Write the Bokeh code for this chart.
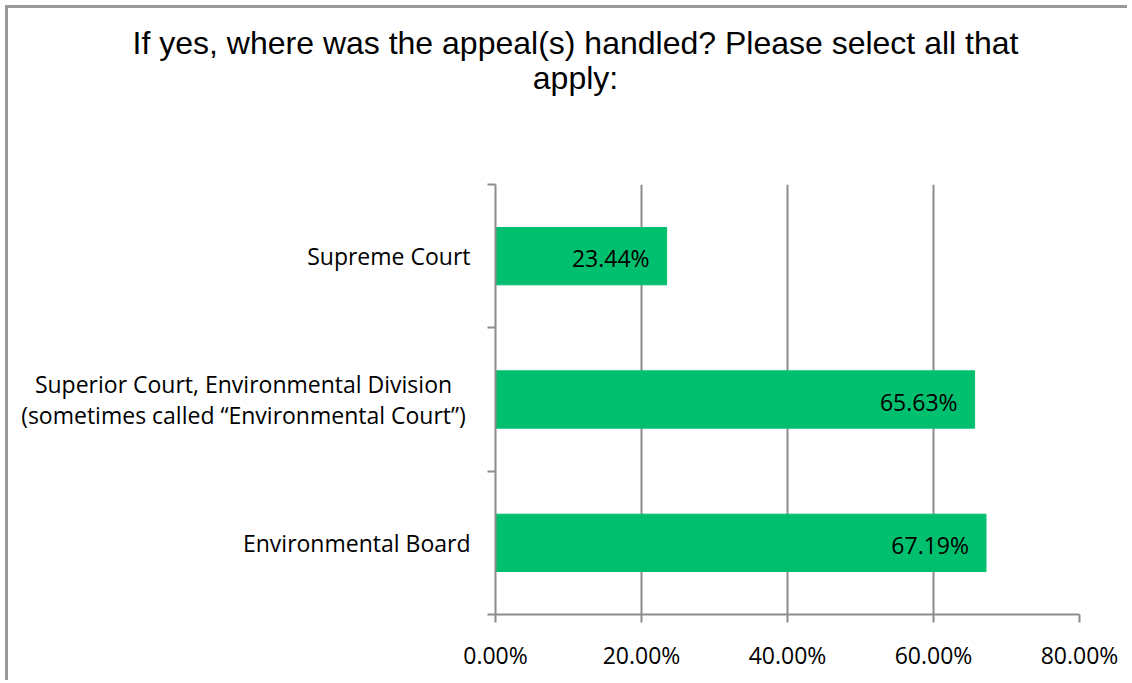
from bokeh.plotting import figure
from bokeh.models import (ColumnDataSource, LabelSet, Label, LinearAxis, Range1d,
                          FixedTicker, PrintfTickFormatter)
from bokeh.core.properties import value
from bokeh.embed import file_html
from bokeh.resources import INLINE

# ---- data ----
title_lines = ["If yes, where was the appeal(s) handled? Please select all that", "apply:"]
categories = [
    "Environmental Board",
    "Superior Court, Environmental Division\n(sometimes called \u201cEnvironmental Court\u201d)",
    "Supreme Court",
]
values = [67.19, 65.63, 23.44]
value_labels = [f"{v:.2f}%" for v in values]
x_ticks = [0, 20, 40, 60, 80]

GRAY = "#8c8c8c"
GREEN = "#00bf6f"
LABEL_FONT = "Open Sans"
FS = "23px"

OX, OY = 8, 8            # canvas origin on the page (5px margin + 3px border)
W, H = 1122, 675
FL, FT = 495 - OX, 184 - OY
FR, FB = (OX + W) - 1079, (OY + H) - 614

n = len(categories)
band_centers = [i + 0.5 for i in range(n)]      # category slots on the band axis
band_edges = list(range(n + 1))
multi = ["\n" in c for c in categories]

p = figure(width=W, height=H, y_range=Range1d(0, n), x_range=Range1d(0, 80),
           output_backend="svg", toolbar_location=None, y_axis_location=None,
           min_border_left=FL, min_border_right=FR, min_border_top=FT,
           min_border_bottom=FB)
p.outline_line_color = None
p.background_fill_color = "white"
p.border_fill_color = "white"
p.styles = {"margin-left": "5px", "margin-top": "5px",
            "border-left": "3px solid #999999", "border-top": "3px solid #999999"}

src = ColumnDataSource(dict(y=band_centers, value=values, label=value_labels))
p.hbar(y="y", right="value", left=0, height=0.4, color=GREEN, source=src)

# grid
p.ygrid.visible = False
p.xgrid.ticker = FixedTicker(ticks=x_ticks)
p.xgrid.grid_line_color = GRAY
p.xgrid.grid_line_width = 2

# x axis
xa = p.xaxis[0]
xa.ticker = FixedTicker(ticks=x_ticks)
xa.formatter = PrintfTickFormatter(format="%.2f%%")
xa.axis_line_color = GRAY
xa.axis_line_width = 2
xa.major_tick_line_color = GRAY
xa.major_tick_line_width = 2
xa.major_tick_out = 8
xa.major_tick_in = 0
xa.minor_tick_line_color = None
xa.major_label_standoff = 16
xa.major_label_text_font = LABEL_FONT
xa.major_label_text_font_size = FS
xa.major_label_text_color = "black"

# y axis: ticks at band boundaries; single-line category names as tick labels
ya = LinearAxis(
    ticker=FixedTicker(ticks=band_centers, minor_ticks=band_edges),
    major_label_overrides={c: ("" if m else cat)
                           for c, cat, m in zip(band_centers, categories, multi)},
)
ya.axis_line_color = GRAY
ya.axis_line_width = 2
ya.major_tick_line_color = None
ya.major_tick_out = 0
ya.major_tick_in = 0
ya.minor_tick_line_color = GRAY
ya.minor_tick_line_width = 2
ya.minor_tick_out = 8
ya.minor_tick_in = 0
ya.major_label_standoff = 17
ya.major_label_text_font = LABEL_FONT
ya.major_label_text_font_size = FS
ya.major_label_text_color = "black"
p.add_layout(ya, "left")

# multi-line category name, lines centred on each other
for yc, cat, m in zip(band_centers, categories, multi):
    if m:
        p.add_layout(Label(x=240 - OX, y=yc, x_units="canvas", y_units="data",
                           text=cat, text_align="center", text_baseline="middle",
                           text_font=LABEL_FONT, text_font_size=FS,
                           text_color="black", text_line_height=0.95), "above")

# data labels
p.add_layout(LabelSet(x="value", y="y", text="label", source=src,
                      x_offset=-17, y_offset=-2, text_align="right",
                      text_baseline="middle", text_font=value(LABEL_FONT),
                      text_font_size=FS, text_color="black"))

# title
p.add_layout(Label(x=572 - OX, y=74 - OY, x_units="canvas", y_units="canvas",
                   text=title_lines[1], text_align="center", text_baseline="alphabetic",
                   text_font="Liberation Sans", text_font_size="32px", text_color="black"), "above")
p.add_layout(Label(x=572 - OX, y=39 - OY, x_units="canvas", y_units="canvas",
                   text=title_lines[0], text_align="center", text_baseline="alphabetic",
                   text_font="Liberation Sans", text_font_size="32px", text_color="black"), "above")

open("out.html", "w").write(file_html(p, INLINE))
